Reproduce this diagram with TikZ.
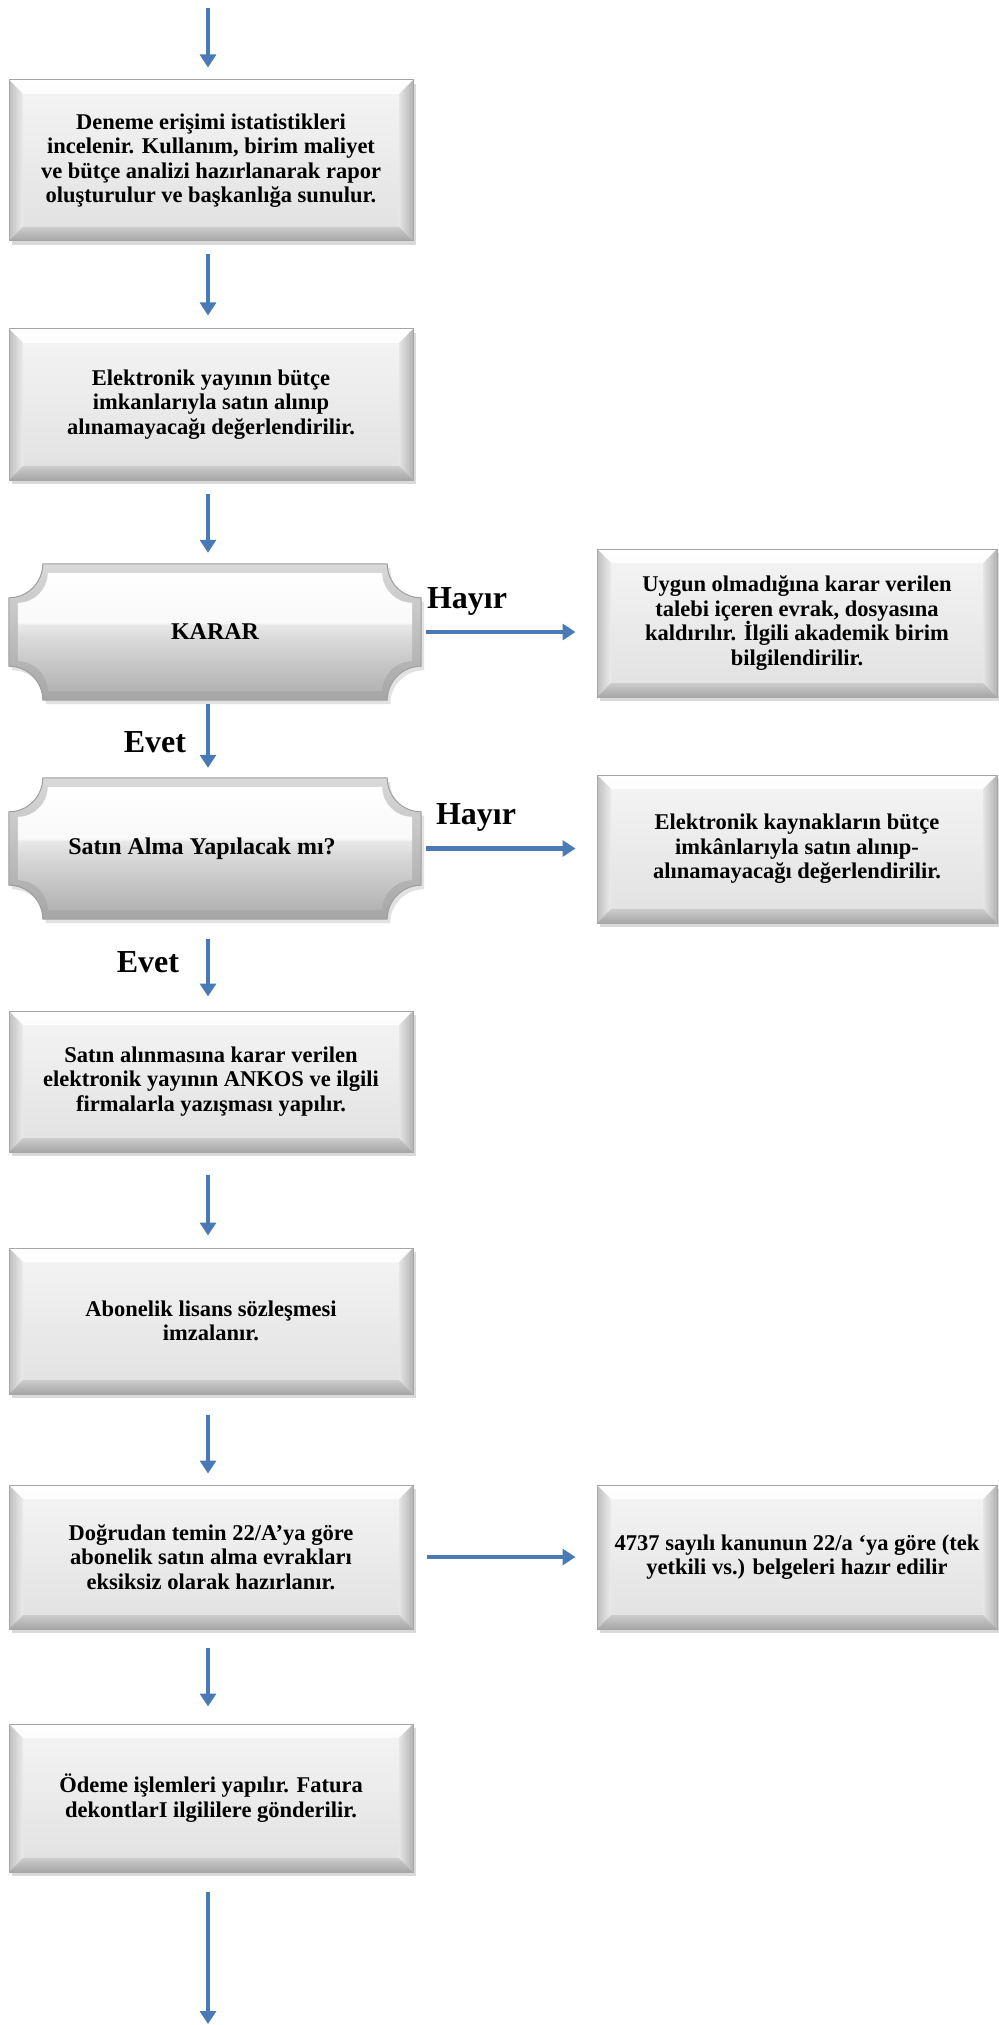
\documentclass[tikz,border=0pt]{standalone}
\usepackage{fontspec}
\setmainfont{Liberation Serif}
\usetikzlibrary{arrows.meta,calc,shadows,backgrounds}

\definecolor{okmavi}{RGB}{74,122,182}
\newcommand\metin{\bfseries\fontsize{22.5}{24.5}\selectfont}
\newcommand\baslik{\bfseries\fontsize{24}{28}\selectfont}
\newcommand\etiket{\bfseries\fontsize{32}{36}\selectfont}

\pgfdeclareverticalshading{parlak}{100bp}{color(0bp)=(gray!60); color(25bp)=(gray!60);
  color(47bp)=(gray!30); color(53bp)=(gray!18); color(54bp)=(gray!5); color(75bp)=(white); color(100bp)=(white)}

% kutu kenarlari (bevel), #1 = kenar genisligi
\newcommand\kenar[1]{%
  \shade[top color=white, bottom color=gray!20] (path picture bounding box.north west) -- (path picture bounding box.north east)
    -- ([shift={(-#1,-#1)}]path picture bounding box.north east) -- ([shift={(#1,-#1)}]path picture bounding box.north west) -- cycle;
  \shade[left color=gray!50, right color=gray!15] (path picture bounding box.north west) -- ([shift={(#1,-#1)}]path picture bounding box.north west)
    -- ([shift={(#1,#1)}]path picture bounding box.south west) -- (path picture bounding box.south west) -- cycle;
  \shade[left color=gray!20, right color=gray!60] (path picture bounding box.north east) -- ([shift={(-#1,-#1)}]path picture bounding box.north east)
    -- ([shift={(-#1,#1)}]path picture bounding box.south east) -- (path picture bounding box.south east) -- cycle;
  \shade[top color=gray!40, bottom color=gray!70] (path picture bounding box.south west) -- ([shift={(#1,#1)}]path picture bounding box.south west)
    -- ([shift={(-#1,#1)}]path picture bounding box.south east) -- (path picture bounding box.south east) -- cycle;
}

% levha (karar kutusu): dugum, iceri pay, kose yaricapi
\newcommand\levha[3]{let \p1=($(#1.north west)+(#2,-#2)$), \p2=($(#1.south east)+(-#2,#2)$) in
  (\x1,\y1-#3) arc[start angle=270,end angle=360,radius=#3] -- (\x2-#3,\y1)
  arc[start angle=180,end angle=270,radius=#3] -- (\x2,\y2+#3)
  arc[start angle=90,end angle=180,radius=#3] -- (\x1+#3,\y2)
  arc[start angle=0,end angle=90,radius=#3] -- cycle}

\begin{document}
\begin{tikzpicture}[x=1pt, y=-1pt,
    kutu/.style={draw=gray!70, line width=1pt, top color=gray!8, bottom color=gray!24, minimum width=404pt,
      align=center, font=\metin, drop shadow={shadow xshift=3pt, shadow yshift=-4pt, opacity=.3},
      path picture={\kenar{14pt}}},
    yan/.style={kutu, minimum width=400pt, minimum height=148pt},
    karar/.style={minimum width=412pt, align=center, font=\baslik},
    ok/.style={-{Triangle[width=16pt,length=13pt]}, line width=4.5pt, okmavi, shorten <=13pt, shorten >=13pt},
    lbl/.style={font=\etiket}
]
\useasboundingbox (0,0) rectangle (998,2025);

\coordinate (bas) at (208,0);
\coordinate (son) at (208,2025);

\node[kutu, minimum height=161pt] (d1) at (211,160.5) {Deneme erişimi istatistikleri\\ incelenir. Kullanım, birim maliyet\\ ve bütçe analizi hazırlanarak rapor\\ oluşturulur ve başkanlığa sunulur.};
\node[kutu, minimum height=151pt] (d2) at (211,404.5) {Elektronik yayının bütçe\\ imkanlarıyla satın alınıp\\ alınamayacağı değerlendirilir.};
\node[karar, minimum height=136pt] (k1) at (215,632) {KARAR};
\node[yan] (y1) at (797,623) {Uygun olmadığına karar verilen\\ talebi içeren evrak, dosyasına\\ kaldırılır. İlgili akademik birim\\ bilgilendirilir.};
\node[karar, minimum height=141pt] (k2) at (215,848.5) {Satın Alma Yapılacak mı?\hspace*{26pt}};
\node[yan] (y2) at (797,849) {Elektronik kaynakların bütçe\\ imkânlarıyla satın alınıp-\\ alınamayacağı değerlendirilir.};
\node[kutu, minimum height=141pt] (d3) at (211,1081.5) {Satın alınmasına karar verilen\\ elektronik yayının ANKOS ve ilgili\\ firmalarla yazışması yapılır.};
\node[kutu, minimum height=146pt] (d4) at (211,1321) {Abonelik lisans sözleşmesi\\ imzalanır.};
\node[kutu, minimum height=144pt] (d5) at (211,1557) {Doğrudan temin 22/A’ya göre\\ abonelik satın alma evrakları\\ eksiksiz olarak hazırlanır.};
\node[yan, minimum height=144pt] (y3) at (797,1557) {4737 sayılı kanunun 22/a ‘ya göre (tek\\ yetkili vs.) belgeleri hazır edilir};
\node[kutu, minimum height=148pt] (d6) at (211,1798) {Ödeme işlemleri yapılır. Fatura\\ dekontlarI ilgililere gönderilir.};

\node[lbl] (h1) at (467,601) {Hayır};
\node[lbl] (h2) at (476,817) {Hayır};
\node[lbl] (e1) at (155,742) {Evet};
\node[lbl] (e2) at (148,962) {Evet};

\begin{scope}[on background layer]
  \foreach \k in {k1,k2}{
    \begin{scope}[transform canvas={xshift=3pt,yshift=-4pt}]
      \fill[gray!45, opacity=.5] \levha{\k}{0pt}{34pt};
    \end{scope}
    \shadedraw[draw=gray!75, line width=1pt, top color=gray!30, bottom color=gray!70] \levha{\k}{0pt}{34pt};
    \shade[shading=parlak] \levha{\k}{9pt}{30pt};
  }
\end{scope}

\draw[ok, shorten <=8pt, shorten >=12pt] (bas) -- (bas |- d1.north);
\draw[ok] (d1.south -| bas) -- (d2.north -| bas);
\draw[ok, shorten >=11pt] (d2.south -| bas) -- (k1.north -| bas);
\draw[ok, shorten <=4pt, shorten >=10pt] (k1.south -| bas) -- (k2.north -| bas);
\draw[ok, shorten <=20pt, shorten >=14pt] (k2.south -| bas) -- (d3.north -| bas);
\draw[ok, shorten <=22pt, shorten >=12pt] (d3.south -| bas) -- (d4.north -| bas);
\draw[ok, shorten <=20pt, shorten >=11pt] (d4.south -| bas) -- (d5.north -| bas);
\draw[ok, shorten <=18pt, shorten >=17pt] (d5.south -| bas) -- (d6.north -| bas);
\draw[ok, shorten <=19pt, shorten >=1pt] (d6.south -| bas) -- (son);

\draw[ok, shorten <=5pt, shorten >=21pt] (k1.east) -- (k1.east -| y1.west);
\draw[ok, shorten <=5pt, shorten >=21pt] (k2.east) -- (k2.east -| y2.west);
\draw[ok, shorten <=13pt, shorten >=21pt] (d5.east) -- (d5.east -| y3.west);
\end{tikzpicture}
\end{document}
